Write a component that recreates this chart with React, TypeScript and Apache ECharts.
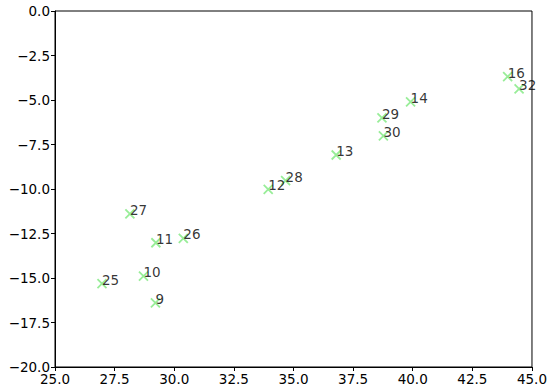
import React, { useEffect, useRef } from "react";
import * as echarts from "echarts";

const pointLabels = ["9", "10", "11", "12", "13", "14", "16", "25", "26", "27", "28", "29", "30", "32"];
const xValues = [29.21, 28.71, 29.23, 33.94, 36.79, 39.91, 43.98, 26.97, 30.38, 28.14, 34.67, 38.71, 38.77, 44.46];
const yValues = [-16.4, -14.89, -13.02, -10.02, -8.09, -5.1, -3.69, -15.32, -12.77, -11.4, -9.53, -6.01, -7.02, -4.38];

const xTicks = [25, 27.5, 30, 32.5, 35, 37.5, 40, 42.5, 45];
const yTicks = [0, -2.5, -5, -7.5, -10, -12.5, -15, -17.5, -20];

const fmt = (v: number) => {
  const s = v.toFixed(1);
  return s.startsWith("-") ? "\u2212" + s.slice(1) : s;
};

export default function App() {
  const ref = useRef<HTMLDivElement>(null);
  useEffect(() => {
    if (!ref.current) return;
    const chart = echarts.init(ref.current, undefined, { renderer: "svg" });
    const font = "DejaVu Sans";
    const data = pointLabels.map((l, i) => ({ value: [xValues[i], yValues[i]], name: l }));
    chart.setOption({
      animation: false,
      backgroundColor: "#ffffff",
      grid: {
        left: 55,
        right: 17,
        top: 11,
        bottom: 25,
        show: true,
        borderColor: "#000",
        borderWidth: 1,
        backgroundColor: "transparent",
      },
      xAxis: {
        type: "value",
        min: xTicks[0],
        max: xTicks[xTicks.length - 1],
        interval: 2.5,
        axisLine: { show: true, onZero: false, lineStyle: { color: "#000", width: 1 } },
        axisTick: { show: true, inside: false, length: 4, lineStyle: { color: "#000" } },
        axisLabel: { color: "#000", fontFamily: font, fontSize: 13.5, margin: 5, formatter: fmt },
        splitLine: { show: false },
      },
      yAxis: {
        type: "value",
        min: yTicks[yTicks.length - 1],
        max: yTicks[0],
        interval: 2.5,
        axisLine: { show: true, onZero: false, lineStyle: { color: "#000", width: 1 } },
        axisTick: { show: true, inside: false, length: 4, lineStyle: { color: "#000" } },
        axisLabel: { color: "#000", fontFamily: font, fontSize: 13.5, margin: 5, formatter: fmt },
        splitLine: { show: false },
      },
      series: [
        {
          type: "scatter",
          data,
          symbol: "path://M0,0L10,10M10,0L0,10",
          symbolSize: 9,
          itemStyle: { color: "transparent", borderColor: "#7ee87e", borderWidth: 1.8 },
          label: {
            show: true,
            formatter: (p: any) => p.name,
            position: ["50%", "50%"],
            align: "left",
            verticalAlign: "bottom",
            offset: [0, 3],
            color: "#000",
            fontFamily: font,
            fontSize: 13.5,
          },
        },
      ],
    });
    return () => chart.dispose();
  }, []);
  return (
    <div
      ref={ref}
      style={{ position: "fixed", left: 0, top: 0, width: 550, height: 392, background: "#fff" }}
    />
  );
}
